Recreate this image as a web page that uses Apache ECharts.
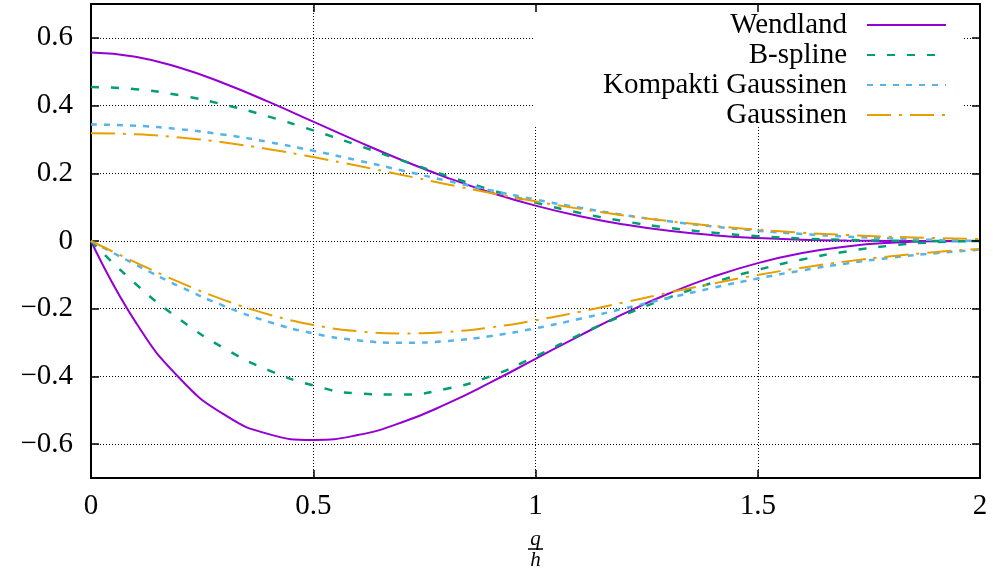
<!DOCTYPE html>
<html>
<head>
<meta charset="utf-8">
<script src="https://cdn.jsdelivr.net/npm/echarts@6/dist/echarts.min.js"></script>
<style>
html, body { margin: 0; padding: 0; background: #fff; }
#chart { width: 993px; height: 579px; }
</style>
</head>
<body>
<div id="chart"></div>
<script>
// q/h sample positions
var qValues = [0, 0.1, 0.2, 0.3, 0.4, 0.5, 0.6, 0.7, 0.8, 0.9, 1.0, 1.1, 1.2, 1.3, 1.4, 1.5, 1.6, 1.7, 1.8, 1.9, 2.0];

// kernel values W and their derivatives
var wendland = [0.557, 0.5444, 0.5116, 0.4652, 0.4107, 0.3525, 0.2942, 0.2386, 0.1877, 0.1427, 0.1044, 0.0731, 0.0485, 0.0301, 0.0171, 0.0087, 0.0037, 0.0012, 0.0003, 0.0, 0];
var wendlandDeriv = [0, -0.2388, -0.4061, -0.5131, -0.5704, -0.5875, -0.5732, -0.5354, -0.4812, -0.4170, -0.3481, -0.2792, -0.2139, -0.1552, -0.1053, -0.0653, -0.0356, -0.0160, -0.0050, -0.0007, 0];
var bspline = [0.4547, 0.4482, 0.4302, 0.4025, 0.3674, 0.3268, 0.2828, 0.2375, 0.1928, 0.1508, 0.1137, 0.0829, 0.0582, 0.0390, 0.0246, 0.0142, 0.0073, 0.0031, 0.0009, 0.0001, 0];
var bsplineDeriv = [0, -0.1262, -0.2319, -0.3172, -0.3819, -0.4263, -0.4502, -0.4536, -0.4365, -0.3990, -0.3410, -0.2762, -0.2183, -0.1671, -0.1228, -0.0853, -0.0546, -0.0307, -0.0136, -0.0034, 0];
var compactGauss = [0.3440, 0.3405, 0.3302, 0.3138, 0.2922, 0.2665, 0.2380, 0.2082, 0.1783, 0.1495, 0.1225, 0.0981, 0.0766, 0.0582, 0.0429, 0.0305, 0.0207, 0.0131, 0.0073, 0.0031, 0];
var compactGaussDeriv = [0, -0.0694, -0.1347, -0.1921, -0.2389, -0.2729, -0.2934, -0.3005, -0.2956, -0.2806, -0.2578, -0.2299, -0.1992, -0.1681, -0.1382, -0.1108, -0.0867, -0.0662, -0.0494, -0.0360, -0.0257];
var gauss = [0.3183, 0.3151, 0.3058, 0.2909, 0.2712, 0.2479, 0.2221, 0.1950, 0.1678, 0.1416, 0.1171, 0.0949, 0.0754, 0.0587, 0.0448, 0.0335, 0.0246, 0.0177, 0.0125, 0.0086, 0.0058];
var gaussDeriv = [0, -0.0630, -0.1223, -0.1745, -0.2170, -0.2479, -0.2665, -0.2730, -0.2685, -0.2549, -0.2342, -0.2088, -0.1810, -0.1526, -0.1254, -0.1005, -0.0787, -0.0602, -0.0450, -0.0327, -0.0233];

var legendNames = ['Wendland', 'B-spline', 'Kompakti Gaussinen', 'Gaussinen'];
var yTicks = [-0.6, -0.4, -0.2, 0, 0.2, 0.4, 0.6];

var FONT = 'Liberation Serif';

function pairs(ys) {
    var out = [];
    for (var i = 0; i < qValues.length; i++) {
        out.push([qValues[i], ys[i]]);
    }
    return out;
}

function curve(name, ys, color, dash, width) {
    return {
        name: name,
        type: 'line',
        data: pairs(ys),
        smooth: 0.5,
        symbol: 'none',
        lineStyle: { color: color, width: width, type: dash },
        itemStyle: { color: color }
    };
}

function initChart() {
    var myChart = echarts.init(document.getElementById('chart'));
    var frame = { show: true, onZero: false, lineStyle: { color: '#000', width: 2 } };
    var tick = { show: true, inside: true, length: 8, lineStyle: { color: '#000', width: 1.5 } };
    var grid = { show: true, lineStyle: { color: '#000', width: 1, type: [1, 2] } };
    var label = { color: '#000', fontFamily: FONT, fontSize: 29 };

    var option = {
        animation: false,
        backgroundColor: '#fff',
        grid: { left: 91, right: 13, top: 4, bottom: 101 },
        legend: {
            data: legendNames,
            orient: 'vertical',
            align: 'right',
            right: 46,
            top: 10,
            padding: 0,
            itemGap: 0,
            itemWidth: 79,
            itemHeight: 14,
            itemStyle: { opacity: 0 },
            textStyle: { color: '#000', fontFamily: FONT, fontSize: 29, lineHeight: 30, padding: [0, 15, 0, 0] }
        },
        graphic: [{
            type: 'rect',
            z: 1,
            shape: { x: 533, y: 6, width: 431, height: 119 },
            style: { fill: '#fff' }
        }],
        xAxis: [{
            type: 'value', min: 0, max: 2, interval: 0.5, position: 'bottom',
            axisLine: frame, axisTick: tick, splitLine: grid,
            axisLabel: Object.assign({ margin: 14 }, label),
            name: '{n|q}\n{bar|}\n{d|h}',
            nameLocation: 'middle',
            nameGap: 54,
            nameTextStyle: {
                rich: {
                    n: { fontFamily: FONT, fontStyle: 'italic', fontSize: 21, color: '#000', lineHeight: 15, align: 'center' },
                    bar: { width: 15, height: 1.5, backgroundColor: '#000', lineHeight: 4, align: 'center' },
                    d: { fontFamily: FONT, fontStyle: 'italic', fontSize: 21, color: '#000', lineHeight: 18, align: 'center' }
                }
            }
        }, {
            type: 'value', min: 0, max: 2, interval: 0.5, position: 'top', z: 5,
            axisLine: frame, axisTick: tick, splitLine: { show: false }, axisLabel: { show: false }
        }],
        yAxis: [{
            type: 'value', min: -0.7, max: 0.7, position: 'left',
            axisLine: frame,
            axisTick: Object.assign({ customValues: yTicks }, tick),
            splitLine: grid,
            axisLabel: Object.assign({
                customValues: yTicks,
                margin: 18,
                formatter: function (v) { return String(v).replace('-', '\u2212'); }
            }, label)
        }, {
            type: 'value', min: -0.7, max: 0.7, position: 'right', z: 5,
            axisLine: frame,
            axisTick: Object.assign({ customValues: yTicks }, tick),
            splitLine: { show: false },
            axisLabel: { show: false, customValues: yTicks }
        }],
        series: [
            curve('Wendland', wendland, '#9400d3', 'solid', 2),
            curve('Wendland', wendlandDeriv, '#9400d3', 'solid', 2),
            curve('B-spline', bspline, '#009e73', [8, 12], 2.5),
            curve('B-spline', bsplineDeriv, '#009e73', [8, 12], 2.5),
            curve('Kompakti Gaussinen', compactGauss, '#56b4e9', [6, 7], 2.5),
            curve('Kompakti Gaussinen', compactGaussDeriv, '#56b4e9', [6, 7], 2.5),
            curve('Gaussinen', gauss, '#e69f00', [24, 8, 3, 8], 2),
            curve('Gaussinen', gaussDeriv, '#e69f00', [24, 8, 3, 8], 2)
        ]
    };
    myChart.setOption(option);
}

initChart();
</script>
</body>
</html>
